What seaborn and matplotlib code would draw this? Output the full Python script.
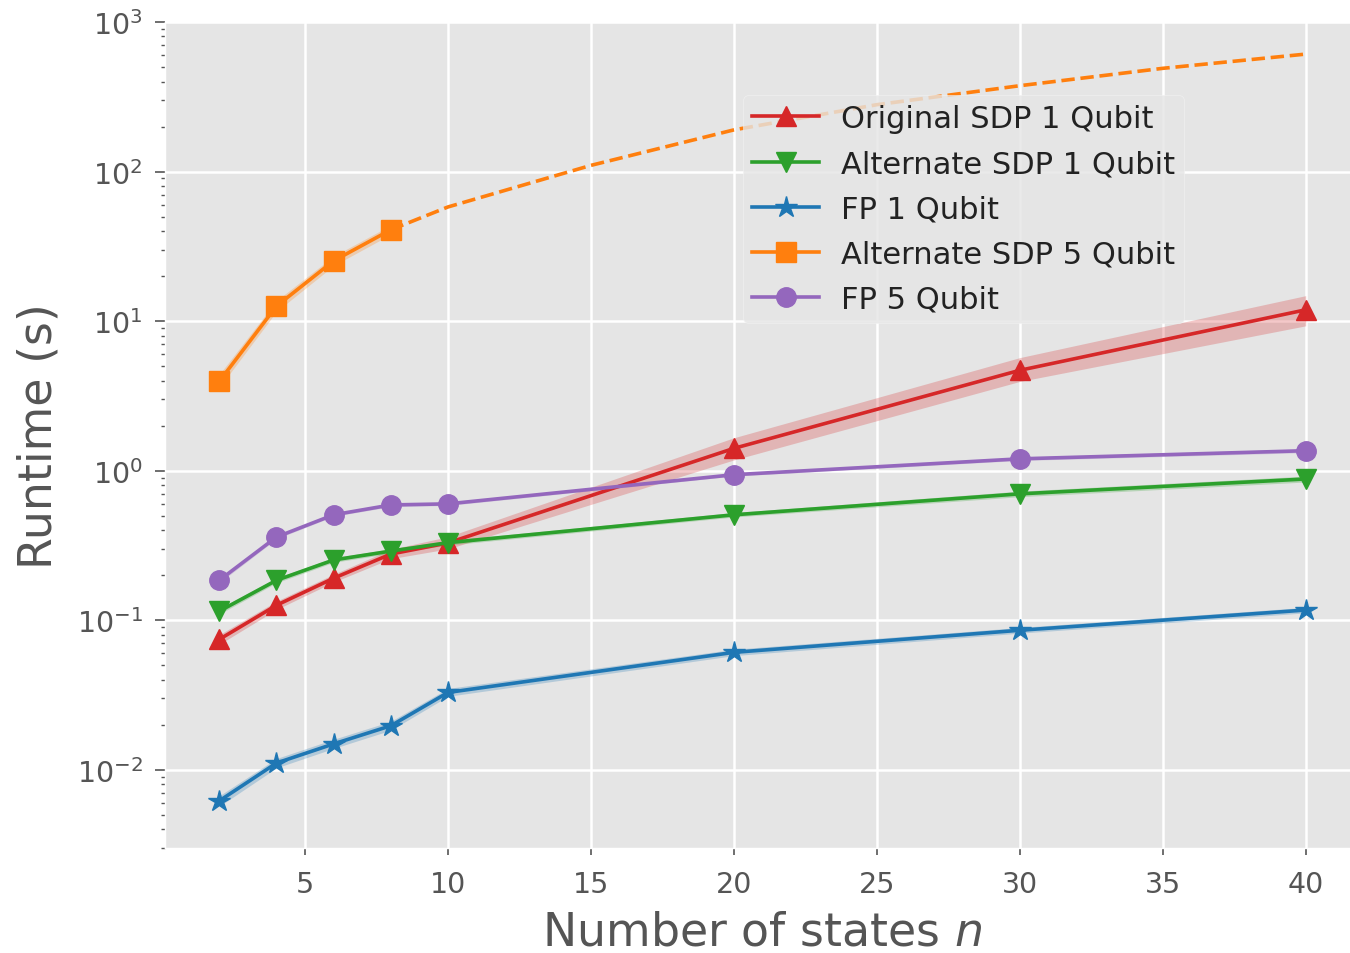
import matplotlib
matplotlib.use("Agg")
import matplotlib.pyplot as plt
import seaborn as sns
import numpy as np

# ---- data ----
n_states = [2, 4, 6, 8, 10, 20, 30, 40]
orig_sdp_1q = [0.0745, 0.126, 0.191, 0.277, 0.329, 1.41, 4.69, 11.9]
orig_sdp_1q_lo = [0.069, 0.118, 0.180, 0.258, 0.300, 1.18, 3.95, 9.3]
orig_sdp_1q_hi = [0.080, 0.134, 0.203, 0.298, 0.362, 1.66, 5.70, 14.8]
alt_sdp_1q = [0.115, 0.185, 0.253, 0.290, 0.330, 0.507, 0.70, 0.88]
alt_sdp_1q_lo = [0.110, 0.178, 0.244, 0.280, 0.318, 0.490, 0.67, 0.84]
alt_sdp_1q_hi = [0.120, 0.192, 0.262, 0.300, 0.342, 0.525, 0.73, 0.92]
fp_1q = [0.0062, 0.0111, 0.0149, 0.0197, 0.0329, 0.061, 0.0857, 0.117]
fp_1q_lo = [0.0057, 0.0103, 0.0139, 0.0184, 0.0310, 0.058, 0.0820, 0.112]
fp_1q_hi = [0.0067, 0.0119, 0.0160, 0.0211, 0.0350, 0.064, 0.0895, 0.122]
n_states_5q = [2, 4, 6, 8]
alt_sdp_5q = [3.96, 12.6, 25.3, 40.8]
alt_sdp_5q_lo = [3.6, 11.6, 23.5, 38.0]
alt_sdp_5q_hi = [4.4, 13.7, 27.2, 43.8]
n_states_5q_fit = [8, 10, 15, 20, 25, 30, 35, 40]
alt_sdp_5q_fit = [40.8, 58, 110, 190, 280, 375, 490, 610]
fp_5q = [0.185, 0.36, 0.507, 0.59, 0.60, 0.94, 1.20, 1.36]
fp_5q_lo = [0.178, 0.35, 0.495, 0.575, 0.585, 0.92, 1.17, 1.32]
fp_5q_hi = [0.192, 0.37, 0.520, 0.605, 0.615, 0.96, 1.23, 1.40]

labels = ["Original SDP 1 Qubit", "Alternate SDP 1 Qubit", "FP 1 Qubit",
          "Alternate SDP 5 Qubit", "FP 5 Qubit"]
colors = ["#d62728", "#2ca02c", "#1f77b4", "#ff7f0e", "#9467bd"]
markers = ["^", "v", "*", "s", "o"]
x_ticks = [5, 10, 15, 20, 25, 30, 35, 40]

plt.style.use("ggplot")
fig, ax = plt.subplots(figsize=(13.5, 9.54), dpi=100)
fig.subplots_adjust(left=165 / 1350, right=1360 / 1350, top=1 - 23 / 954,
                    bottom=1 - 849 / 954)
ax.set_yscale("log")

series = [
    (n_states, orig_sdp_1q, orig_sdp_1q_lo, orig_sdp_1q_hi),
    (n_states, alt_sdp_1q, alt_sdp_1q_lo, alt_sdp_1q_hi),
    (n_states, fp_1q, fp_1q_lo, fp_1q_hi),
    (n_states_5q, alt_sdp_5q, alt_sdp_5q_lo, alt_sdp_5q_hi),
    (n_states, fp_5q, fp_5q_lo, fp_5q_hi),
]

for (xs, ys, lo, hi), lab, col, mk in zip(series, labels, colors, markers):
    ax.fill_between(xs, lo, hi, color=col, alpha=0.25, linewidth=0)
    ms = 16 if mk == "*" else 14
    sns.lineplot(x=xs, y=ys, ax=ax, color=col, marker=mk, markersize=ms,
                 markeredgecolor=col, markeredgewidth=1, linewidth=2.6, label=lab)

sns.lineplot(x=n_states_5q_fit, y=alt_sdp_5q_fit, ax=ax, color=colors[3],
             linestyle="--", dashes=(6, 2.5), linewidth=2.6, legend=False)

ax.set_xlim(0.1, 41.9)
ax.set_ylim(3e-3, 1e3)
ax.set_xticks(x_ticks)
ax.tick_params(axis="both", which="major", labelsize=20.5, colors="#555555",
               width=1.2, labelcolor="#555555")
ax.tick_params(axis="x", which="major", length=5, pad=11)
ax.tick_params(axis="y", which="major", length=7, pad=9)
ax.tick_params(axis="y", which="minor", length=3, width=1, colors="#555555")
ax.set_xlabel("Number of states $n$", fontsize=33, color="#555555", labelpad=8)
ax.set_ylabel("Runtime (s)", fontsize=33, color="#555555", labelpad=11)
ax.grid(True, which="major", color="white", linewidth=1.8)
ax.grid(False, which="minor")

leg = ax.legend(loc="upper left", bbox_to_anchor=(0.4837, 0.9116), fontsize=22,
                frameon=True, handlelength=2.2, borderpad=0.3, borderaxespad=0,
                labelspacing=0.53, handletextpad=0.7)
leg.get_frame().set_facecolor("#E5E5E5")
leg.get_frame().set_edgecolor("#F2F2F2")
for t in leg.get_texts():
    t.set_color("#222222")

fig.savefig("out.png", dpi=100)
